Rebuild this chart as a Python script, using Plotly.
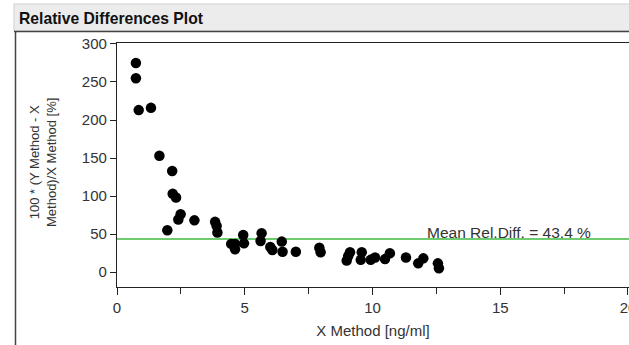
import plotly.graph_objects as go

# Data
x_method = [0.74, 0.74, 0.85, 1.33, 1.66, 2.16, 2.18, 2.31, 2.49, 2.40, 1.97, 3.03,
            3.84, 3.90, 3.93, 4.47, 4.62, 4.62, 4.94, 4.97, 5.62, 5.66, 6.00, 6.08,
            6.45, 6.48, 7.00, 7.92, 7.97, 8.99, 9.05, 9.12, 9.54, 9.58, 9.93, 10.10,
            10.49, 10.68, 11.31, 11.79, 11.99, 12.56, 12.60]
rel_diff = [275, 255, 213, 216, 153, 133, 103, 98, 76, 69, 55, 68,
            66, 60.5, 52, 37, 37, 30, 48.7, 37.7, 40.8, 51, 33, 29,
            40, 26.7, 26.7, 32, 26, 15, 21, 26, 16, 26, 16, 19,
            17, 24.6, 19, 11.4, 18, 11.4, 5]
mean_rel_diff = 43.4
y_ticks = [0, 50, 100, 150, 200, 250, 300]
x_ticks = [0, 5, 10, 15, 20]

W, H = 629, 345
L, R, T, B = 117, 0, 43, 58
pw, ph = W - L - R, H - T - B
X_MAX = 20.04

def px_x(px):
    return (px - L) / pw

def px_y(py):
    return (H - B - py) / ph

FONT = "Arial, Liberation Sans, sans-serif"

fig = go.Figure()
fig.add_trace(go.Scatter(
    x=x_method, y=rel_diff, mode="markers",
    marker=dict(color="black", size=10.5, line=dict(width=0)),
    showlegend=False, cliponaxis=False,
))

shapes = [
    # title bar
    dict(type="rect", xref="paper", yref="paper", x0=px_x(14), x1=1.01, y0=px_y(31), y1=px_y(4),
         fillcolor="#ececec", line=dict(color="#cfcfcf", width=1), layer="below"),
    # frame top line
    dict(type="line", xref="paper", yref="paper", x0=px_x(14), x1=1.01, y0=px_y(31.5), y1=px_y(31.5),
         line=dict(color="#444444", width=1.5)),
    # frame left line
    dict(type="line", xref="paper", yref="paper", x0=px_x(15.5), x1=px_x(15.5), y0=px_y(31), y1=px_y(350),
         line=dict(color="#444444", width=1.5)),
    # mean line
    dict(type="line", xref="paper", yref="y", x0=0, x1=1, y0=mean_rel_diff, y1=mean_rel_diff,
         line=dict(color="#3fba3f", width=1.5), layer="below"),
]

annotations = [
    dict(text="<b>Relative Differences Plot</b>", xref="paper", yref="paper",
         x=px_x(17), y=px_y(19), xanchor="left", yanchor="middle", showarrow=False,
         font=dict(family=FONT, size=15.7, color="#111111")),
    dict(text=f"Mean Rel.Diff. = {mean_rel_diff} %", xref="x", yref="y",
         x=(425 - L) / pw * X_MAX, y=mean_rel_diff, xanchor="left", yanchor="bottom",
         yshift=-4, showarrow=False,
         font=dict(family=FONT, size=15.5, color="#333333")),
    dict(text="100 * (Y Method - X<br>Method)/X Method [%]", xref="paper", yref="paper",
         x=px_x(43), y=px_y(163), xanchor="center", yanchor="middle", textangle=-90,
         showarrow=False, font=dict(family=FONT, size=13, color="#333333")),
]

fig.update_layout(
    width=W, height=H,
    margin=dict(l=L, r=R, t=T, b=B, pad=0, autoexpand=False),
    paper_bgcolor="white", plot_bgcolor="white",
    shapes=shapes, annotations=annotations,
    font=dict(family=FONT, color="#333333"),
)
fig.update_xaxes(
    range=[0, X_MAX], tickvals=x_ticks, ticktext=[str(v) for v in x_ticks],
    ticklabeloverflow="allow", automargin=False,
    showgrid=False, zeroline=False,
    showline=True, linecolor="#222222", linewidth=1.2, mirror=True,
    ticks="outside", ticklen=7, tickcolor="#222222", tickwidth=1,
    minor=dict(dtick=2.5, tick0=0, ticks="outside", ticklen=6, tickcolor="#222222", tickwidth=1),
    tickfont=dict(family=FONT, size=15, color="#333333"),
    title=dict(text="X Method [ng/ml]", font=dict(family=FONT, size=15, color="#333333"), standoff=10),
)
fig.update_yaxes(
    range=[-19.7, 301.3], tickvals=y_ticks, ticktext=[str(v) for v in y_ticks],
    automargin=False,
    showgrid=False, zeroline=False,
    showline=True, linecolor="#222222", linewidth=1.2,
    ticks="outside", ticklen=6, tickcolor="#222222", tickwidth=1,
    tickfont=dict(family=FONT, size=15, color="#333333"),
)

fig.write_html("out.html")
